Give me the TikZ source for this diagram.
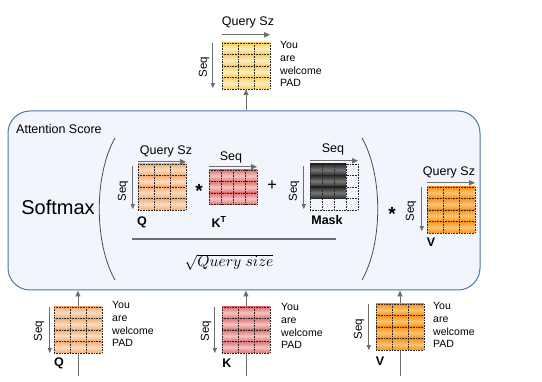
\documentclass[tikz,border=0pt]{standalone}
\usepackage{fontspec}
\setmainfont{Liberation Sans}
\usepackage{amsmath, amsfonts, amssymb}
\usetikzlibrary{arrows.meta}

\definecolor{qedge}{HTML}{F3AC74}
\definecolor{qmid}{HTML}{FCDDC2}
\definecolor{kedge}{HTML}{DD7474}
\definecolor{kmid}{HTML}{F5C3C3}
\definecolor{vedge}{HTML}{F6921A}
\definecolor{vmid}{HTML}{FCC474}
\definecolor{oedge}{HTML}{F7CC62}
\definecolor{omid}{HTML}{FDF0C2}
\definecolor{medge}{HTML}{2A2A2A}
\definecolor{mmid}{HTML}{767676}
\definecolor{boxfill}{HTML}{F2F6FC}
\definecolor{boxline}{HTML}{4A78AE}
\definecolor{arrowgray}{HTML}{6E6E6E}

% shaded rows of a token matrix: left, top, width, rows, edge colour, middle colour
\newcommand{\matrows}[6]{%
  \foreach \r in {1,...,#4}
    \shade[top color=#5, bottom color=#5, middle color=#6]
      (#1,{#2+(\r-1)*11.5}) rectangle ++(#3,11.5);
}
% dotted cells and the named node of a matrix: name, left, top, cols, rows
\newcommand{\matgrid}[5]{%
  \node[inner sep=0pt, minimum width=48pt, minimum height={#5*11.5pt}]
    (#1) at ({#2+24},{#3+#5*5.75}) {};
  \foreach \c in {0,...,#4}
    \draw[cellline] ({#2+\c*48/#4},#3) -- ++(0,{#5*11.5});
  \foreach \r in {0,...,#5}
    \draw[cellline] (#2,{#3+\r*11.5}) -- ++(48,0);
}

\begin{document}
\begin{tikzpicture}[x=1pt, y=-1pt,
  cellline/.style={densely dotted, line width=0.6pt, black!85},
  dimarrow/.style={arrowgray, line width=1.3pt, -{Triangle[length=6pt,width=5pt]}},
  seqarrow/.style={arrowgray, line width=0.9pt, -{Triangle[length=5pt,width=4pt]}},
  flow/.style={arrowgray, line width=0.9pt, -{Triangle[length=6pt,width=5pt]}},
  dimlabel/.style={font=\fontsize{12.5}{14}\selectfont, inner sep=0pt},
  seqlabel/.style={font=\fontsize{11.5}{13}\selectfont, inner sep=0pt, rotate=90},
  matname/.style={font=\fontsize{12.5}{14}\selectfont\bfseries, inner sep=0pt},
  words/.style={font=\fontsize{10.5}{12.8}\selectfont, align=left, inner sep=0pt, anchor=north west},
  op/.style={font=\fontsize{19}{20}\selectfont\bfseries, inner sep=0pt}]
\useasboundingbox (0,0) rectangle (542,382);

% attention score box
\node[draw=boxline, fill=boxfill, line width=1pt, rounded corners=22pt,
  minimum width=472pt, minimum height=179pt] (score) at (244,200.5) {};
\node[anchor=west, font=\fontsize{12.5}{14}\selectfont, inner sep=0pt] (title) at (16,129) {Attention Score};

% inputs into the box, output out of it
\coordinate (qsrc) at (78,376);
\coordinate (ksrc) at (246,376);
\coordinate (vsrc) at (400,376);
\draw[flow] (qsrc) -- (qsrc |- score.south);
\draw[flow] (ksrc) -- (ksrc |- score.south);
\draw[flow] (vsrc) -- (vsrc |- score.south);

% output
\matrows{222}{43}{48}{4}{oedge}{omid}
\matgrid{out}{222}{43}{3}{4}
\draw[flow] (out.south |- score.north) -- (out.south);
\node[dimlabel] (outsz) at (248,22) {Query Sz};
\draw[dimarrow] ([yshift=8pt]out.north west) -- ([yshift=8pt]out.north east);
\node[seqlabel] (outseq) at (204,67) {Seq};
\draw[seqarrow] ([xshift=-9pt]out.north west) -- ([xshift=-9pt,yshift=1pt]out.south west);
\node[words] (outwords) at (280,41) {You\\are\\welcome\\PAD};

% softmax of the scaled scores
\node[font=\fontsize{20}{22}\selectfont, inner sep=0pt] (softmax) at (58,207) {Softmax};
\draw[black!70, line width=0.8pt] (115,138) .. controls (94,175) and (94,243) .. (115,280);
\draw[black!70, line width=0.8pt] (362,138) .. controls (383,175) and (383,243) .. (362,280);

\matrows{138}{164}{48}{4}{qedge}{qmid}
\matgrid{qm}{138}{164}{3}{4}
\node[dimlabel] (qmsz) at (166,151) {Query Sz};
\draw[dimarrow] ([yshift=2pt]qm.north west) -- ([yshift=2pt]qm.north east);
\node[seqlabel] (qmseq) at (123,191) {Seq};
\draw[seqarrow] ([xshift=-5pt,yshift=-2pt]qm.north west) -- ([xshift=-5pt,yshift=1pt]qm.south west);
\node[matname] (qmname) at (142,222) {Q};

\node[op] (times) at (199,191) {*};

\matrows{209}{170}{48}{3}{kedge}{kmid}
\matgrid{kt}{209}{170}{4}{3}
\node[dimlabel] (ktseq) at (231,157) {Seq};
\draw[dimarrow] ([yshift=3pt]kt.north west) -- ([yshift=3pt]kt.north east);
\node[matname] (ktname) at (219,222) {K\textsuperscript{T}};

\node[font=\fontsize{17}{18}\selectfont, inner sep=0pt] (plus) at (272,186) {+};

\matrows{310}{164}{36}{3}{medge}{mmid}
\matgrid{mask}{310}{164}{4}{4}
\node[dimlabel] (maskseqx) at (333,149) {Seq};
\draw[dimarrow] ([yshift=3pt]mask.north west) -- ([yshift=3pt]mask.north east);
\node[seqlabel] (maskseq) at (294,191) {Seq};
\draw[seqarrow] ([xshift=-6pt,yshift=-2pt]mask.north west) -- ([xshift=-6pt,yshift=1pt]mask.south west);
\node[matname] (maskname) at (327,220) {Mask};

\draw[arrowgray, line width=1.4pt] (132,239) -- (336,239);
\node[inner sep=0pt, scale=1.55] (scale) at (229,262) {$\sqrt{Query\ size}$};

\node[op] (times2) at (392,214) {*};

\matrows{427}{187}{48}{4}{vedge}{vmid}
\matgrid{vm}{427}{187}{3}{4}
\node[dimlabel] (vmsz) at (449,172) {Query Sz};
\draw[dimarrow] ([yshift=4pt]vm.north west) -- ([yshift=4pt]vm.north east);
\node[seqlabel] (vmseq) at (411,211) {Seq};
\draw[seqarrow] ([xshift=-5pt]vm.north west) -- ([xshift=-5pt,yshift=2pt]vm.south west);
\node[matname] (vmname) at (431,242) {V};

% inputs
\matrows{54}{307}{48}{4}{qedge}{qmid}
\matgrid{qin}{54}{307}{3}{4}
\node[seqlabel] (qinseq) at (39,331) {Seq};
\draw[seqarrow] ([xshift=-4pt]qin.north west) -- ([xshift=-4pt]qin.south west);
\node[matname] (qinname) at (59,363) {Q};
\node[words] (qinwords) at (112,301) {You\\are\\welcome\\PAD};

\matrows{222}{307}{48}{4}{kedge}{kmid}
\matgrid{kin}{222}{307}{3}{4}
\node[seqlabel] (kinseq) at (206,331) {Seq};
\draw[seqarrow] ([xshift=-7pt]kin.north west) -- ([xshift=-7pt]kin.south west);
\node[matname] (kinname) at (227,363) {K};
\node[words] (kinwords) at (281,303) {You\\are\\welcome\\PAD};

\matrows{376}{304}{48}{4}{vedge}{vmid}
\matgrid{vin}{376}{304}{3}{4}
\node[seqlabel] (vinseq) at (359,329) {Seq};
\draw[seqarrow] ([xshift=-7pt]vin.north west) -- ([xshift=-7pt]vin.south west);
\node[matname] (vinname) at (380,361) {V};
\node[words] (vinwords) at (433,302) {You\\are\\welcome\\PAD};
\end{tikzpicture}
\end{document}
